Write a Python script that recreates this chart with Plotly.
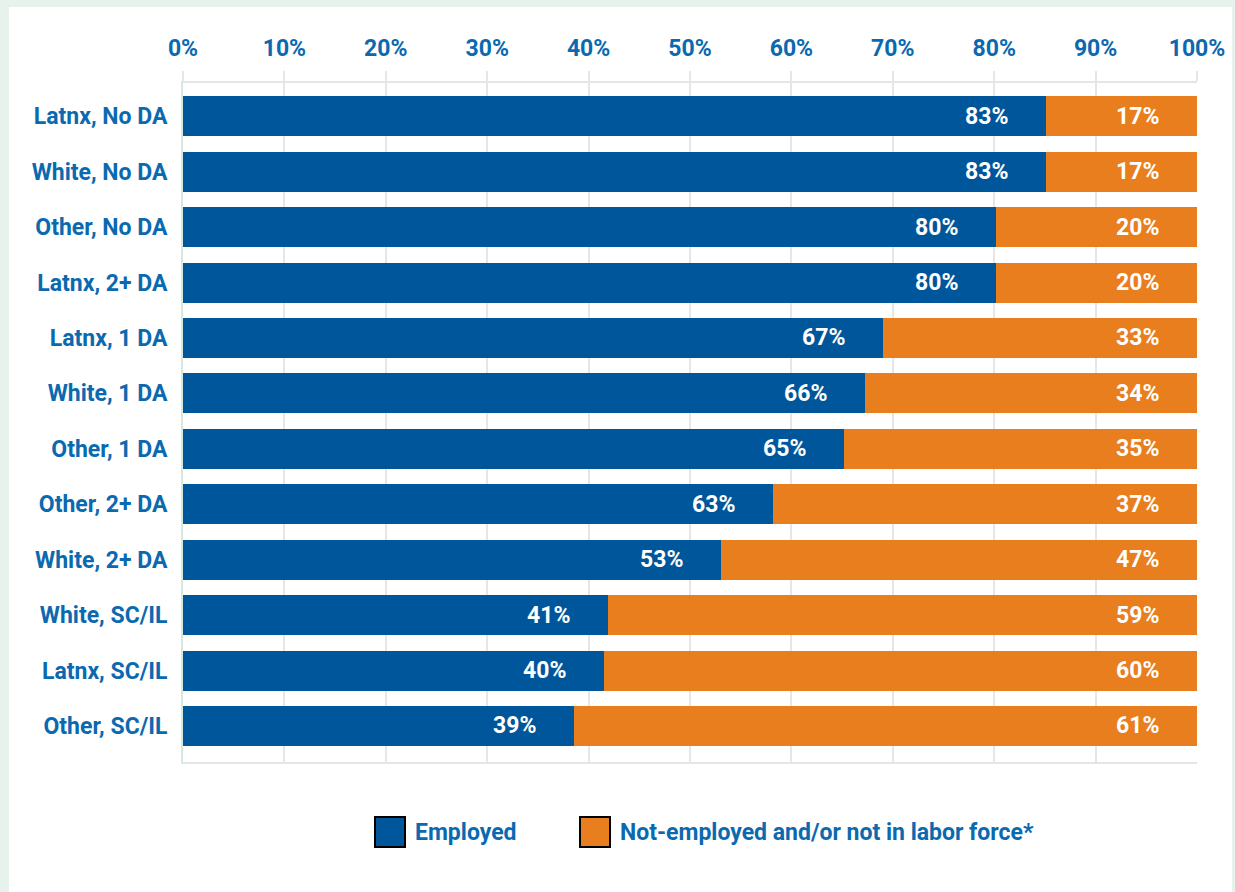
import plotly.graph_objects as go

categories = ["Latnx, No DA", "White, No DA", "Other, No DA", "Latnx, 2+ DA",
              "Latnx, 1 DA", "White, 1 DA", "Other, 1 DA", "Other, 2+ DA",
              "White, 2+ DA", "White, SC/IL", "Latnx, SC/IL", "Other, SC/IL"]
# bar lengths as drawn (percent of 100)
employed_bar = [85.1, 85.1, 80.2, 80.2, 69.0, 67.3, 65.2, 58.2, 53.1, 41.9, 41.5, 38.6]
# printed labels
employed_lbl = ["83%", "83%", "80%", "80%", "67%", "66%", "65%", "63%", "53%", "41%", "40%", "39%"]
notemp_lbl = ["17%", "17%", "20%", "20%", "33%", "34%", "35%", "37%", "47%", "59%", "60%", "61%"]
series_names = ["Employed", "Not-employed and/or not in labor force*"]
tick_vals = [0, 10, 20, 30, 40, 50, 60, 70, 80, 90, 100]
tick_text = ["0%", "10%", "20%", "30%", "40%", "50%", "60%", "70%", "80%", "90%", "100%"]

notemp_bar = [round(100 - v, 1) for v in employed_bar]

BLUE = "#00569a"
ORANGE = "#e87e1e"
TXT = "#0b69b0"
FONT = "Roboto, sans-serif"
FS = 23

fig = go.Figure()
fig.add_trace(go.Bar(y=categories, x=employed_bar, orientation="h", name=series_names[0],
                     marker=dict(color=BLUE, line=dict(width=0)), width=0.72))
fig.add_trace(go.Bar(y=categories, x=notemp_bar, orientation="h", name=series_names[1],
                     marker=dict(color=ORANGE, line=dict(width=0)), width=0.72))

annotations = []
for c, e, el, nl in zip(categories, employed_bar, employed_lbl, notemp_lbl):
    annotations.append(dict(x=e, y=c, xref="x", yref="y", text=el, showarrow=False,
                            xanchor="right", xshift=-36,
                            font=dict(family=FONT, size=FS, color="white", weight="bold")))
    annotations.append(dict(x=100, y=c, xref="x", yref="y", text=nl, showarrow=False,
                            xanchor="right", xshift=-36,
                            font=dict(family=FONT, size=FS, color="white", weight="bold")))

# legend (custom, large swatches)
W, H = 1014.0, 679.0
def px(xp):
    return (xp - 183) / W
def py(yp):
    return 1 - (yp - 83) / H

legend_items = [(375, series_names[0], BLUE), (580, series_names[1], ORANGE)]
shapes = [dict(type="rect", xref="paper", yref="paper", x0=px(9), x1=px(1232),
               y0=py(900), y1=py(7), fillcolor="white", line=dict(width=0), layer="below")]
for x0, name, col in legend_items:
    shapes.append(dict(type="rect", xref="paper", yref="paper", x0=px(x0), x1=px(x0 + 30),
                       y0=py(847), y1=py(817), fillcolor=col, line=dict(color="black", width=2)))
    annotations.append(dict(x=px(x0 + 38), y=py(832), xref="paper", yref="paper", text=name,
                            showarrow=False, xanchor="left", yanchor="middle",
                            font=dict(family=FONT, size=FS, color=TXT, weight="bold")))

fig.update_layout(
    width=1235, height=892,
    barmode="stack",
    showlegend=False,
    paper_bgcolor="#e8f2ed",
    plot_bgcolor="white",
    margin=dict(l=183, r=38, t=83, b=130, autoexpand=False),
    annotations=annotations,
    shapes=shapes,
    font=dict(family=FONT, size=FS, color=TXT),
    xaxis=dict(side="top", range=[0, 100], tickvals=tick_vals, ticktext=tick_text,
               showgrid=True, gridcolor="#e6e6e6", gridwidth=2,
               ticks="outside", ticklen=10, tickcolor="#e6e6e6", tickwidth=2,
               showline=True, linecolor="#e3e6e4", linewidth=2, mirror=True,
               zeroline=False, fixedrange=True, ticklabelstandoff=6,
               tickfont=dict(family=FONT, size=FS, color=TXT, weight="bold")),
    yaxis=dict(categoryorder="array", categoryarray=categories, range=[11.65, -0.6],
               showgrid=False, showline=True, linecolor="#d6e9e1", linewidth=2, mirror=False,
               ticks="", ticklabelstandoff=9, zeroline=False,
               tickfont=dict(family=FONT, size=FS, color=TXT, weight="bold")),
    bargap=0.28,
)

fig.write_html("out.html")
